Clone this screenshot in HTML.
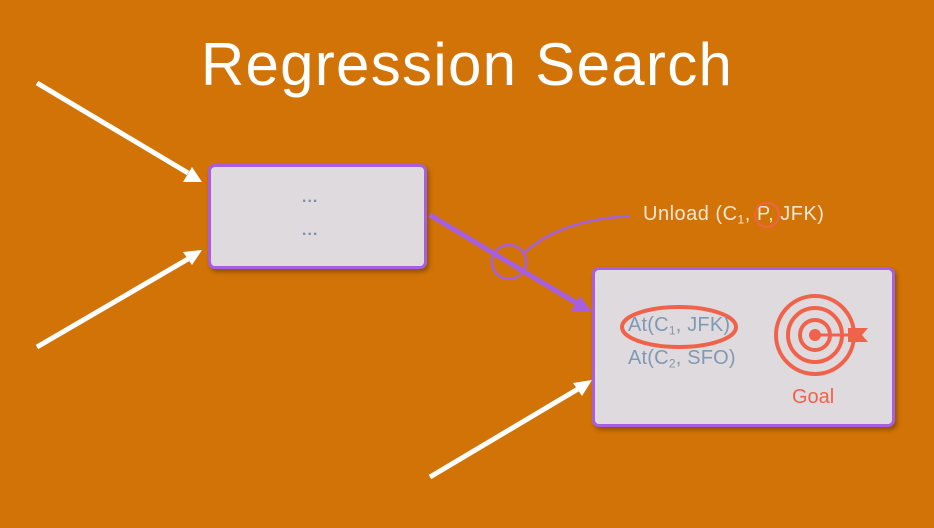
<!DOCTYPE html>
<html><head><style>
html,body{margin:0;padding:0}
body{width:934px;height:528px;background:#d17306;position:relative;overflow:hidden;font-family:"Liberation Sans",sans-serif}
.t{position:absolute;white-space:nowrap}
.box{position:absolute;background:#dfdadd;border:3px solid #a65fe0;border-radius:7px;box-shadow:2px 3px 4px rgba(0,0,0,0.3);box-sizing:border-box}
sub{font-size:0.6em;vertical-align:-0.3em}
</style></head><body>
<div class="t" style="left:0;width:934px;top:30px;text-align:center;font-size:60px;color:#fff;font-weight:300;letter-spacing:1.3px">Regression Search</div>
<div class="box" style="left:208px;top:164px;width:219px;height:105px"></div>
<div class="t" style="left:302px;top:189px;font-size:16px;font-weight:bold;color:#7d8fa8;letter-spacing:1px">...</div>
<div class="t" style="left:302px;top:222px;font-size:16px;font-weight:bold;color:#7d8fa8;letter-spacing:1px">...</div>
<div class="box" style="left:592px;top:267px;width:303px;height:160px"></div>
<svg width="934" height="528" style="position:absolute;left:0;top:0">
<g stroke="#fff" stroke-width="5" fill="#fff">
<line x1="37" y1="83" x2="188" y2="173"/><polygon points="202,182 183,182 192,167" stroke="none"/>
<line x1="37" y1="347" x2="188" y2="259"/><polygon points="202,250 192,265 183,252" stroke="none"/>
<line x1="430" y1="477" x2="578" y2="389"/><polygon points="592,380 582,396 573,383" stroke="none"/>
</g>
<line x1="430" y1="215" x2="578" y2="304" stroke="#a65fe0" stroke-width="5"/>
<polygon points="592,312 571,311 580,296" fill="#a65fe0"/>
<circle cx="509" cy="262" r="17" fill="none" stroke="#a65fe0" stroke-width="2.5"/>
<path d="M524,253 Q560,220 630,216" fill="none" stroke="#a65fe0" stroke-width="2.5"/>
<ellipse cx="679" cy="327" rx="57" ry="20" fill="none" stroke="#f0634a" stroke-width="4"/>
<circle cx="815" cy="335" r="39" fill="none" stroke="#f0634a" stroke-width="4"/>
<circle cx="815" cy="335" r="27" fill="none" stroke="#f0634a" stroke-width="4"/>
<circle cx="815" cy="335" r="15" fill="none" stroke="#f0634a" stroke-width="4"/>
<circle cx="815" cy="335" r="6" fill="#f0634a"/>
<line x1="815" y1="335" x2="855" y2="335" stroke="#f0634a" stroke-width="3"/>
<polygon points="848,328 868,328 862,335 868,342 848,342" fill="#f0634a"/>
</svg>
<div class="t" style="left:643px;top:203px;font-size:20px;letter-spacing:0.5px;color:#f5e6d6">Unload (C<sub>1</sub>, P, JFK)</div>
<svg width="934" height="528" style="position:absolute;left:0;top:0"><circle cx="767" cy="215" r="12" fill="none" stroke="#f0634a" stroke-width="2"/></svg>
<div class="t" style="left:628px;top:314px;font-size:20px;letter-spacing:0.2px;color:#8099b2">At(C<sub>1</sub>, JFK)</div>
<div class="t" style="left:628px;top:347px;font-size:20px;letter-spacing:0.2px;color:#8099b2">At(C<sub>2</sub>, SFO)</div>
<div class="t" style="left:792px;top:386px;font-size:20px;color:#f0634a">Goal</div>
</body></html>
